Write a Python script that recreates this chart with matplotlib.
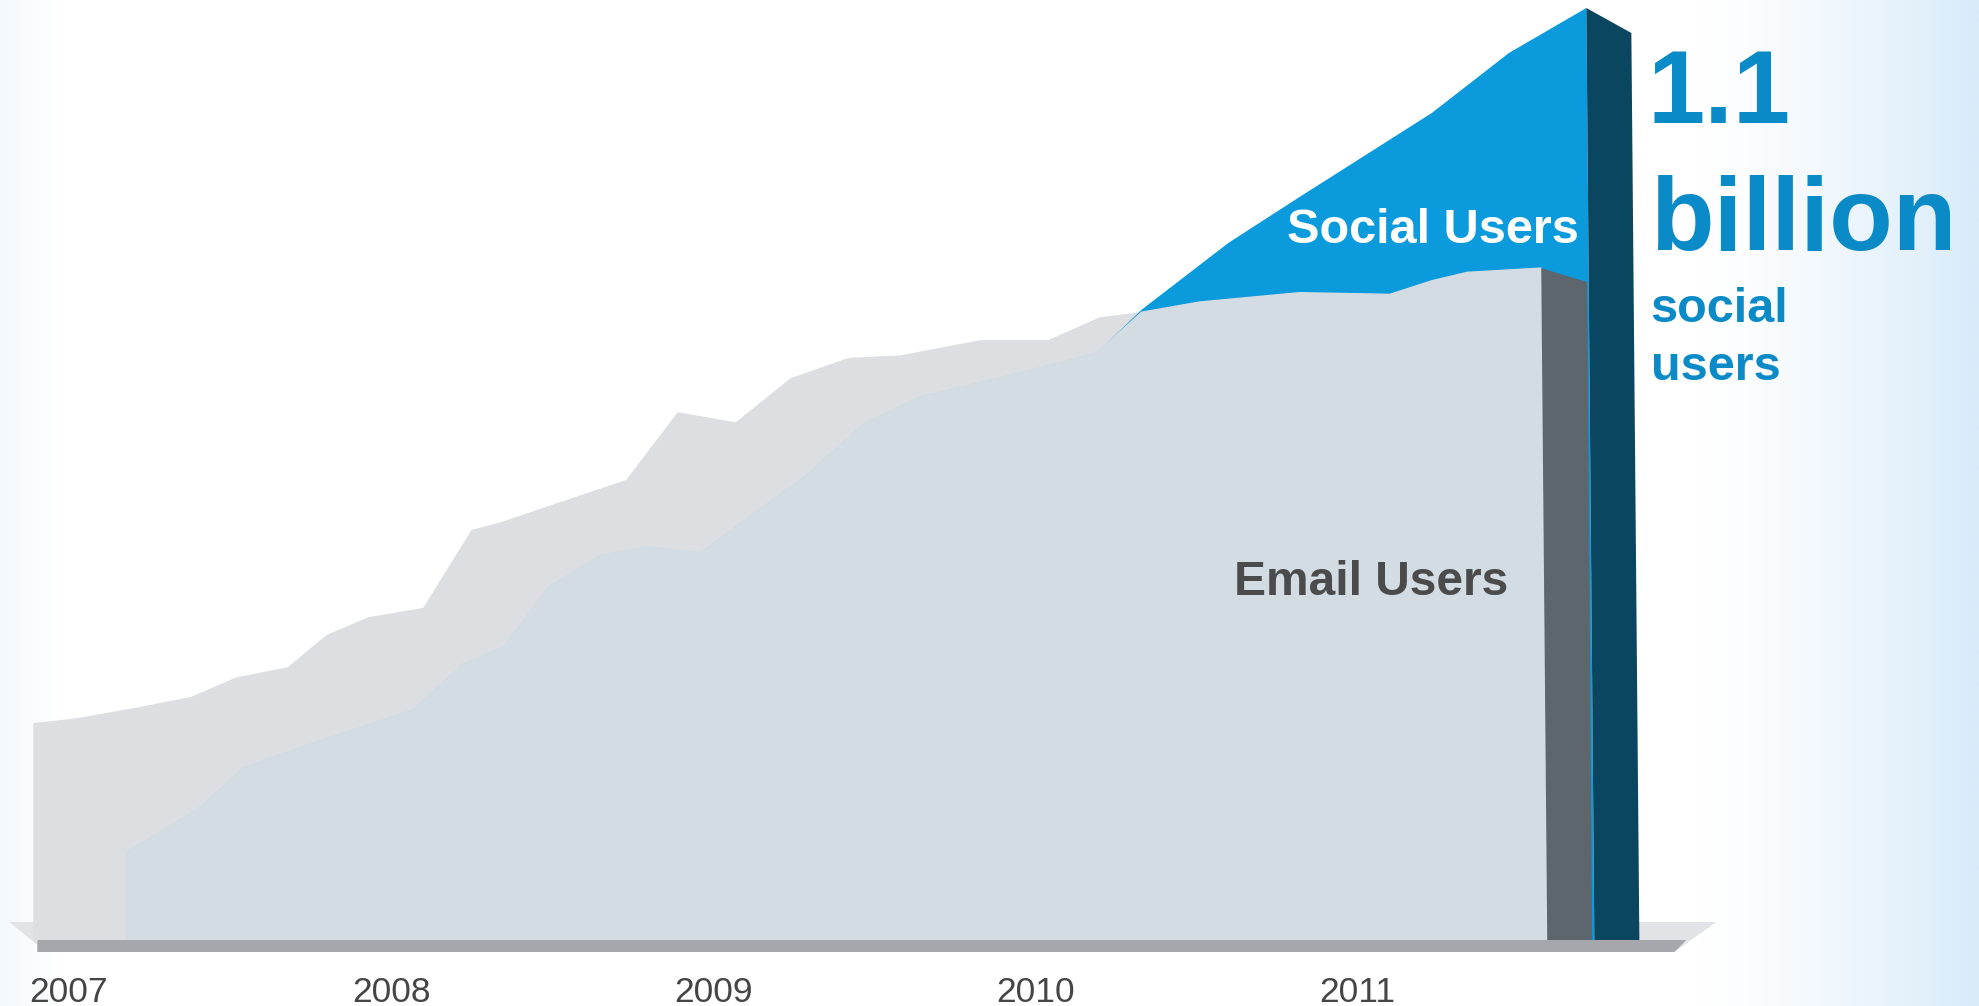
import matplotlib.pyplot as plt
import numpy as np
from matplotlib.patches import Polygon

plt.rcParams["font.family"] = ["Liberation Sans", "DejaVu Sans"]

# users in millions, sampled along the timeline (fractional years)
email_years = [2006.89, 2007.03, 2007.22, 2007.38, 2007.52, 2007.68, 2007.80, 2007.93,
               2008.10, 2008.25, 2008.34, 2008.48, 2008.73, 2008.89, 2009.07, 2009.24,
               2009.42, 2009.58, 2009.83, 2010.04, 2010.20, 2010.33, 2010.51, 2010.82,
               2011.10, 2011.23, 2011.34, 2011.57]
email_users = [256, 262, 275, 287, 310, 322, 360, 381,
               392, 484, 493, 511, 543, 623, 611, 663,
               687, 690, 708, 708, 735, 741, 753, 764,
               762, 778, 788, 793]

social_years = [2007.18, 2007.41, 2007.54, 2007.68, 2007.80, 2007.93, 2008.07, 2008.22,
                2008.35, 2008.49, 2008.65, 2008.80, 2008.96, 2009.29, 2009.47, 2009.64,
                2009.99, 2010.19, 2010.33, 2010.60, 2010.82, 2011.23, 2011.47, 2011.71]
social_users = [104, 157, 203, 222, 238, 254, 272, 325,
                346, 417, 454, 464, 457, 549, 610, 641,
                673, 693, 744, 823, 877, 976, 1047, 1100]

year_ticks = [2007, 2008, 2009, 2010, 2011]
year_labels = ["2007", "2008", "2009", "2010", "2011"]

BLUE = "#0b9bdc"
DARK_BLUE = "#0b4660"
TEXT_BLUE = "#0a8ac6"
EMAIL_GREY = "#dcdee1"
OVERLAP = "#d3dce3"
EMAIL_SIDE = "#5c666c"

W, H = 1979, 1006
fig = plt.figure(figsize=(W / 100, H / 100), dpi=100)

# pale blue fade at the side edges
bg = fig.add_axes([0, 0, 1, 1], zorder=-1)
xs = np.linspace(0, 1, 800)
strength = np.maximum(np.clip((xs - 0.86) / 0.14, 0, 1) ** 1.3,
                      np.clip(1 - xs / 0.03, 0, 1) * 0.3)
tint = np.array([216, 235, 249]) / 255
row = 1 - strength[:, None] * (1 - tint)
bg.imshow(row[None, :, :], aspect="auto", extent=[0, 1, 0, 1])
bg.axis("off")

ax = fig.add_axes([0, 66 / H, 1, 940 / H])
px_year = 322.2          # pixels per year on screen
m_per_px = 1100 / 932    # millions of users per pixel
DX = 1 / px_year
DY = m_per_px
ax.set_xlim(2007 - 68.8 / px_year, 2007 + (W - 68.8) / px_year)
ax.set_ylim(0, 940 * m_per_px)
ax.patch.set_alpha(0)
for s in ax.spines.values():
    s.set_visible(False)
ax.set_yticks([])
ax.set_xticks(year_ticks, year_labels)
ax.tick_params(axis="x", length=0, pad=26, labelsize=25.5, labelcolor="#454545")

t0, te, ve = email_years[0], email_years[-1], email_users[-1]
s0, ts, vs = social_years[0], social_years[-1], social_users[-1]

# platform under the areas
ax.add_patch(Polygon([(t0 - 24 * DX, 18 * DY), (ts + 130 * DX, 18 * DY),
                      (ts + 88 * DX, -12 * DY), (t0 + 4 * DX, -12 * DY),
                      (t0 + 4 * DX, -5 * DY)],
                     closed=True, fc="#e2e3e6", lw=0, clip_on=False, zorder=0))
ax.add_patch(Polygon([(t0 + 4 * DX, 0), (ts + 100 * DX, 0),
                      (ts + 88 * DX, -12 * DY), (t0 + 4 * DX, -12 * DY)],
                     closed=True, fc="#a6a7ac", lw=0, clip_on=False, zorder=6))

# email users (back)
ax.add_patch(Polygon([(t0, 0)] + list(zip(email_years, email_users)) + [(te + 6 * DX, 0)],
                     closed=True, fc=EMAIL_GREY, lw=0, zorder=1))
# social users (front)
ax.add_patch(Polygon([(s0, 0)] + list(zip(social_years, social_users)) + [(ts + 8 * DX, 0)],
                     closed=True, fc=BLUE, lw=0, zorder=2))
# part of the social area lying under the email line
grid = np.unique(np.concatenate([email_years, social_years]))
grid = grid[(grid >= s0) & (grid <= te)]
low = np.minimum(np.interp(grid, email_years, email_users),
                 np.interp(grid, social_years, social_users))
ax.add_patch(Polygon([(grid[0], 0)] + list(zip(grid, low)) + [(grid[-1] + 6 * DX, 0)],
                     closed=True, fc=OVERLAP, ec=OVERLAP, lw=1.0, zorder=3))

# side faces giving the areas some depth
ax.add_patch(Polygon([(te, ve), (te + 46 * DX, ve - 14 * DY),
                      (te + 51 * DX, 0), (te + 6 * DX, 0)],
                     closed=True, fc=EMAIL_SIDE, lw=0, zorder=4))
ax.add_patch(Polygon([(ts, vs), (ts + 45 * DX, vs - 25 * DY),
                      (ts + 53 * DX, 0), (ts + 8 * DX, 0)],
                     closed=True, fc=DARK_BLUE, lw=0, zorder=5))


def fx(x):
    return x / W


def fy(y):
    return 1 - y / H


fig.text(fx(1579), fy(243), "Social Users", ha="right", va="baseline",
         fontsize=35, fontweight="bold", color="white", zorder=10)
fig.text(fx(1508), fy(595), "Email Users", ha="right", va="baseline",
         fontsize=34.5, fontweight="bold", color="#4b4b4b", zorder=10)

fig.text(fx(1648), fy(123), f"{vs / 1000:.1f}", ha="left", va="baseline",
         fontsize=74, fontweight="bold", color=TEXT_BLUE)
fig.text(fx(1650), fy(250), "billion", ha="left", va="baseline",
         fontsize=75, fontweight="bold", color=TEXT_BLUE)
fig.text(fx(1650), fy(322), "social", ha="left", va="baseline",
         fontsize=35, fontweight="bold", color=TEXT_BLUE)
fig.text(fx(1651), fy(380), "users", ha="left", va="baseline",
         fontsize=35, fontweight="bold", color=TEXT_BLUE)

fig.savefig("out.png", dpi=100)
